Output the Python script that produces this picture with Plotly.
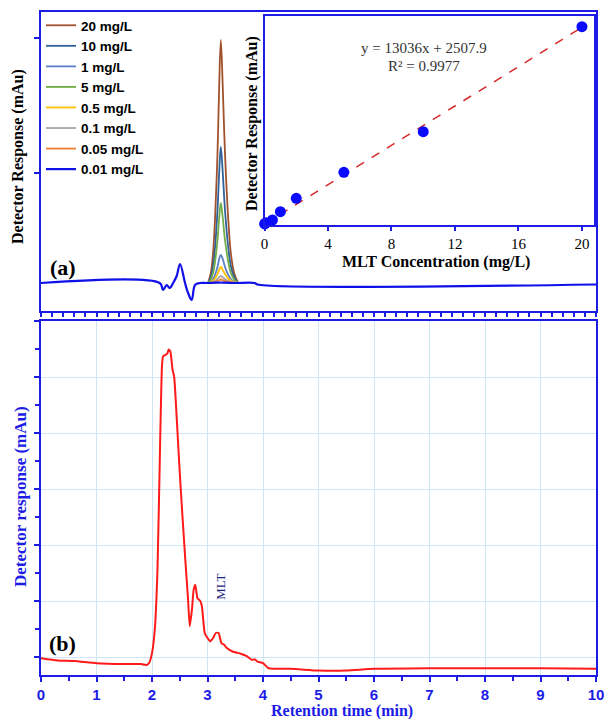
import plotly.graph_objects as go

# ---------------- data ----------------
# Panel (a): calibration chromatograms (retention time in min, response in arbitrary units)
LEGEND_NAMES = ["20 mg/L", "10 mg/L", "1 mg/L", "5 mg/L", "0.5 mg/L", "0.1 mg/L", "0.05 mg/L"]
PEAK_T = [3.01, 3.06, 3.10, 3.135, 3.18, 3.21, 3.24, 3.275, 3.315, 3.375, 3.42, 3.48, 3.55]
PEAK_20 = [0, 0.10, 0.30, 0.63, 1.30, 1.96, 2.43, 1.96, 1.30, 0.63, 0.30, 0.10, 0]
PEAK_10 = [0, 0.06, 0.17, 0.35, 0.73, 1.10, 1.36, 1.10, 0.73, 0.35, 0.17, 0.06, 0]
PEAK_1 = [0, 0.015, 0.04, 0.08, 0.16, 0.24, 0.28, 0.24, 0.16, 0.08, 0.04, 0.015, 0]
PEAK_5 = [0, 0.035, 0.10, 0.21, 0.43, 0.65, 0.80, 0.65, 0.43, 0.21, 0.10, 0.035, 0]
PEAK_05 = [0, 0.01, 0.025, 0.045, 0.09, 0.13, 0.16, 0.13, 0.09, 0.045, 0.025, 0.01, 0]
PEAK_01 = [0, 0.005, 0.012, 0.02, 0.04, 0.057, 0.07, 0.057, 0.04, 0.02, 0.012, 0.005, 0]
PEAK_005 = [0, 0.003, 0.006, 0.01, 0.02, 0.028, 0.035, 0.028, 0.02, 0.01, 0.006, 0.003, 0]
PEAKS = [PEAK_20, PEAK_10, PEAK_1, PEAK_5, PEAK_05, PEAK_01, PEAK_005]
PEAK_COLORS = ["#a0522d", "#2f6299", "#5a7fc8", "#70ad47", "#ffc000", "#a5a5a5", "#ed7d31"]

BASE_NAME = "0.01 mg/L"
BASE_T = [0, 2.14, 2.20, 2.265, 2.32, 2.38, 2.445, 2.505, 2.595, 2.65, 2.715, 2.775, 2.865,
          3.0, 3.2, 3.24, 3.3, 3.5, 3.85, 3.9, 10]
BASE_Y = [0, 0, -0.07, -0.02, -0.05, 0, 0.07, 0.19, 0, -0.10, -0.17, -0.02, 0,
          0, 0.004, 0.005, 0.003, 0, 0, -0.015, -0.015]

# Inset: calibration curve
CONC = [0.01, 0.05, 0.1, 0.5, 1, 2, 5, 10, 20]
RESP = [2600, 3200, 4300, 7800, 18900, 36500, 71000, 124900, 264100]
FIT_X = [0, 20]
FIT_Y = [2507.9, 263227.9]
INSET_TICKS = [0, 4, 8, 12, 16, 20]

# Panel (b): sample chromatogram
RT_B = [0, 0.3, 0.6, 1.0, 1.5, 1.8, 1.9, 1.95, 2.0, 2.05,
        2.1, 2.15, 2.18, 2.2, 2.25, 2.28, 2.3, 2.33, 2.37, 2.4,
        2.45, 2.5, 2.55, 2.6, 2.65, 2.68, 2.72, 2.75, 2.78, 2.82,
        2.87, 2.9, 2.95, 3.0, 3.05, 3.1, 3.15, 3.2, 3.25, 3.3,
        3.35, 3.45, 3.6, 3.7, 3.8, 3.85, 3.9, 4.0, 4.1, 4.2,
        4.5, 5.0, 5.5, 6.0, 7.0, 8.0, 9.0, 10.0]
RESP_B = [-0.02, -0.06, -0.07, -0.11, -0.125, -0.125, -0.14, -0.10, 0.07, 0.49,
          1.6, 4.0, 5.2, 5.37, 5.4, 5.43, 5.49, 5.46, 5.13, 5.0,
          4.18, 3.29, 2.5, 1.74, 1.02, 0.55, 0.85, 1.2, 1.29, 1.05,
          1.0, 0.9, 0.43, 0.34, 0.28, 0.34, 0.43, 0.43, 0.25, 0.22,
          0.16, 0.1, 0.06, 0.02, -0.05, -0.04, -0.08, -0.11, -0.2, -0.21,
          -0.21, -0.24, -0.24, -0.21, -0.2, -0.2, -0.2, -0.21]
X_TICKS_B = list(range(0, 11))

# ---------------- styling ----------------
BLUE = "#1c1ce6"
SERIF = "Liberation Serif"
SANS = "Liberation Sans"
W, H = 604, 719
ML, MR, MT, MB = 41, 8, 12, 44
PW = W - ML - MR
PH = H - MT - MB


def py(ypix):
    return (H - MB - ypix) / PH


def px(xpix):
    return (xpix - ML) / PW


fig = go.Figure()

# panel (a) traces
for name, ys, col in zip(LEGEND_NAMES, PEAKS, PEAK_COLORS):
    fig.add_trace(go.Scatter(x=PEAK_T, y=ys, mode="lines", name="<b>" + name + "</b>",
                             line=dict(color=col, width=1.8, shape="spline"),
                             xaxis="x2", yaxis="y2"))
fig.add_trace(go.Scatter(x=BASE_T, y=BASE_Y, mode="lines", name="<b>" + BASE_NAME + "</b>",
                         line=dict(color="#1010e8", width=2.2, shape="spline"),
                         xaxis="x2", yaxis="y2"))

# inset
fig.add_trace(go.Scatter(x=FIT_X, y=FIT_Y, mode="lines", showlegend=False,
                         line=dict(color="#d42a2a", width=1.5, dash="dash"),
                         xaxis="x3", yaxis="y3"))
fig.add_trace(go.Scatter(x=CONC, y=RESP, mode="markers", showlegend=False,
                         marker=dict(color="#0a0aff", size=11),
                         cliponaxis=False, xaxis="x3", yaxis="y3"))

# panel (b)
fig.add_trace(go.Scatter(x=RT_B, y=RESP_B, mode="lines", showlegend=False,
                         line=dict(color="#ff1a1a", width=2, shape="spline", smoothing=0.5),
                         xaxis="x", yaxis="y"))

axis_common = dict(showline=True, linecolor=BLUE, linewidth=2, mirror=True, zeroline=False,
                   automargin=False)


def note(text, x, y, size, color, xref="paper", yref="paper", angle=0, bold=True):
    return dict(text=("<b>" + text + "</b>") if bold else text, x=x, y=y, xref=xref, yref=yref,
                xanchor="center", yanchor="middle", textangle=angle, showarrow=False,
                font=dict(family=SERIF, size=size, color=color))


ann = [
    note("Detector Response (mAu)", px(18), py(157), 16, "black", angle=-90),
    note("Detector response (mAu)", px(20), py(497), 17, BLUE, angle=-90),
    note("Retention time (min)", px(342), py(711), 16, BLUE),
    note("Detector Response (mAu)", px(252), py(124), 16, "black", angle=-90),
    note("MLT Concentration (mg/L)", px(436), py(262), 16, "black"),
    note("y = 13036x + 2507.9", px(424), py(48), 15, "#333333", bold=False),
    note("R² = 0.9977", px(424), py(66), 15, "#333333", bold=False),
    note("(a)", 0.4, 0.16, 22, "black", xref="x2", yref="y2"),
    note("(b)", 0.385, 0.25, 22, "black", xref="x", yref="y"),
    note("MLT", 3.22, 1.25, 13, "#1a237e", xref="x", yref="y", angle=-90, bold=False),
]

fig.update_layout(
    width=W, height=H,
    margin=dict(l=ML, r=MR, t=MT, b=MB, autoexpand=False),
    paper_bgcolor="white", plot_bgcolor="white",
    showlegend=True,
    legend=dict(x=0.0, y=py(10), xanchor="left", yanchor="top", bgcolor="rgba(0,0,0,0)",
                font=dict(family=SANS, size=13.5, color="black"), tracegroupgap=0),
    # panel (b)
    xaxis=dict(domain=[0, 1], range=[0, 10], anchor="y", tickvals=X_TICKS_B,
               ticks="outside", ticklen=5, tickwidth=2, tickcolor=BLUE,
               tickfont=dict(family=SANS, size=15, color=BLUE, weight="bold"),
               ticklabeloverflow="allow",
               showgrid=True, gridcolor="#cfe6f5", gridwidth=1,
               minor=dict(dtick=0.5, tick0=0, ticks="outside", ticklen=4, tickcolor=BLUE, showgrid=False),
               **axis_common),
    yaxis=dict(domain=[0, py(321)], range=[-0.32, 6.0], anchor="x",
               tick0=0, dtick=1, ticks="outside", ticklen=5, tickwidth=1.5, tickcolor=BLUE,
               showticklabels=False, showgrid=True, gridcolor="#cfe6f5", gridwidth=1,
               minor=dict(dtick=0.5, tick0=0, ticks="outside", ticklen=4, tickcolor=BLUE, showgrid=False),
               **axis_common),
    # panel (a)
    xaxis2=dict(domain=[0, 1], range=[0, 10], anchor="y2", showticklabels=False,
                tick0=0, dtick=0.2, ticks="outside", ticklen=4, tickwidth=1.5, tickcolor=BLUE,
                showgrid=False, **axis_common),
    yaxis2=dict(domain=[py(311), 1], range=[-0.28, 2.71], anchor="x2", showticklabels=False,
                tickvals=[1.10, 2.45], ticks="outside", ticklen=5, tickwidth=1.5, tickcolor=BLUE,
                showgrid=False, **axis_common),
    # inset
    xaxis3=dict(domain=[px(264.5), px(594)], range=[0, 20.76], anchor="y3",
                tickvals=INSET_TICKS, ticks="outside", ticklen=4, tickwidth=1.5, tickcolor=BLUE,
                tickfont=dict(family=SERIF, size=15, color="black"), showgrid=False,
                ticklabeloverflow="allow", **axis_common),
    yaxis3=dict(domain=[py(225), py(16)], range=[1183, 278200], anchor="x3",
                showticklabels=False, ticks="", showgrid=False, **axis_common),
    annotations=ann,
)

fig.write_html("out.html", config={"displayModeBar": False},
               post_script="document.body.style.margin='0';")
